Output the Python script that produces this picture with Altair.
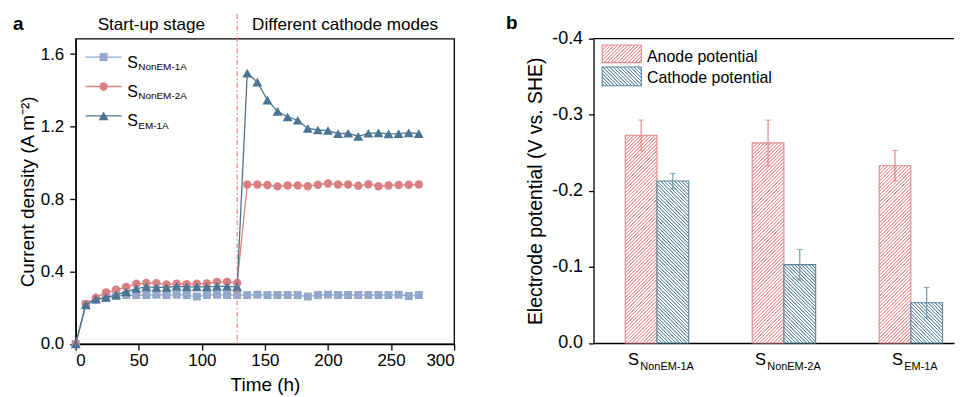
import altair as alt
import pandas as pd
import numpy as np

FONT = "Liberation Sans"

# ---------------- data: panel a ----------------
hours = list(range(0, 280, 8))  # 0 .. 272 h
nonem_1a = [0.0, 0.22, 0.245, 0.255, 0.265, 0.27, 0.27, 0.27, 0.272, 0.27,
            0.272, 0.27, 0.262, 0.27, 0.272, 0.27, 0.27, 0.27, 0.272, 0.27,
            0.27, 0.27, 0.27, 0.262, 0.27, 0.272, 0.27, 0.27, 0.27, 0.27,
            0.27, 0.27, 0.272, 0.265, 0.27]
nonem_2a = [0.0, 0.22, 0.256, 0.285, 0.299, 0.315, 0.332, 0.337, 0.336, 0.328,
            0.332, 0.33, 0.332, 0.334, 0.343, 0.343, 0.337, 0.88, 0.88, 0.877,
            0.870, 0.875, 0.875, 0.871, 0.879, 0.886, 0.88, 0.88, 0.873, 0.882,
            0.871, 0.875, 0.877, 0.879, 0.88]
em_1a = [0.0, 0.216, 0.247, 0.257, 0.271, 0.288, 0.306, 0.315, 0.312, 0.312,
         0.318, 0.315, 0.315, 0.315, 0.318, 0.318, 0.315, 1.495, 1.445, 1.346,
         1.284, 1.253, 1.235, 1.19, 1.181, 1.178, 1.161, 1.163, 1.146, 1.163,
         1.165, 1.16, 1.161, 1.165, 1.161]
series_names = ["NonEM-1A", "NonEM-2A", "EM-1A"]
switch_time = [128]

# ---------------- data: panel b ----------------
reactors = ["NonEM-1A", "NonEM-2A", "EM-1A"]
anode = [-0.273, -0.263, -0.233]
anode_err = [0.02, 0.03, 0.02]
cathode = [-0.213, -0.103, -0.053]
cathode_err = [0.01, 0.02, 0.02]

# ---------------- styles ----------------
C_LIGHT = "#93a8cb"
C_RED = "#db8082"
C_DARK = "#4b7592"
C_RED_BAR = "#e08a8c"
C_BLUE_BAR = "#5a849e"
C_VLINE = "#e07a7c"

WA, HA = 380, 306.6
WB, HB = 362, 305.6
XB_MAX = 2.84
px_per_unit = WB / XB_MAX
BAR_W = 0.25

base = pd.DataFrame({"k": [0]})


def hatch(color, w, h, direction, period=3.5):
    """Soft-edged diagonal stripes built from a linear gradient."""
    c = (1 / h + 1 / w) / (1 / h ** 2 + 1 / w ** 2)
    if direction == "/":
        x1, y1, x2, y2 = 0, 0, c / h, c / w
    else:
        x1, y1, x2, y2 = 0, 1, c / h, 1 - c / w
    n = (w + h) / period
    profile = [(0.0, "white"), (0.22, "white"), (0.42, color), (0.58, color), (0.78, "white")]
    stops = []
    k = 0
    while k / n < 1:
        for frac, col in profile:
            off = (k + frac) / n
            if off <= 1:
                stops.append({"offset": round(off, 5), "color": col})
        k += 1
    stops.append({"offset": 1, "color": "white"})
    return {"gradient": "linear", "stops": stops,
            "x1": x1, "y1": y1, "x2": x2, "y2": y2}


def txt(text, x, y, size, align="left", weight="normal", baseline="alphabetic"):
    return alt.Chart(base).mark_text(
        text=text, fontSize=size, font=FONT, align=align, baseline=baseline,
        fontWeight=weight, color="black"
    ).encode(x=alt.value(x), y=alt.value(y))


# ================= panel a =================
df_a = pd.DataFrame({
    "t": hours * 3,
    "j": nonem_1a + nonem_2a + em_1a,
    "s": [series_names[0]] * len(hours) + [series_names[1]] * len(hours) + [series_names[2]] * len(hours),
})

xa = alt.X("t:Q", scale=alt.Scale(domain=[0, 300], nice=False),
           axis=alt.Axis(values=[0, 50, 100, 150, 200, 250, 300], title="Time (h)",
                         tickSize=6, labelPadding=3, titlePadding=7, labelFontSize=17,
                         titleFontSize=19, format="d"))
ya = alt.Y("j:Q", scale=alt.Scale(domain=[0, 1.685], nice=False),
           axis=alt.Axis(values=[0, 0.4, 0.8, 1.2, 1.6], format=".1f",
                         title="Current density (A m⁻²)", tickSize=6, labelPadding=6,
                         titlePadding=3, labelFontSize=17, titleFontSize=19))

styles = {"NonEM-1A": (C_LIGHT, "square", 64),
          "NonEM-2A": (C_RED, "circle", 72),
          "EM-1A": (C_DARK, "triangle-up", 100)}

layers_a = []
for s in ["NonEM-1A", "NonEM-2A", "EM-1A"]:
    col, shp, sz = styles[s]
    src = alt.Chart(df_a).transform_filter(alt.datum.s == s)
    layers_a.append(src.mark_line(color=col, strokeWidth=1.3).encode(x=xa, y=ya))
    layers_a.append(src.mark_point(color=col, shape=shp, size=sz, filled=True, opacity=1).encode(x=xa, y=ya))

vline = alt.Chart(pd.DataFrame({"t": switch_time})).mark_rule(
    color=C_VLINE, strokeWidth=1.1, strokeDash=[5, 2.5, 1.5, 2.5]
).encode(x="t:Q", y=alt.value(-24.7), y2=alt.value(HA))
layers_a.append(vline)

# legend (panel a)
for i, s in enumerate(series_names):
    col, shp, sz = styles[s]
    yy = 18.5 + 29.5 * i
    layers_a.append(alt.Chart(base).mark_rule(color=col, strokeWidth=1.3).encode(
        x=alt.value(10), x2=alt.value(46), y=alt.value(yy)))
    layers_a.append(alt.Chart(base).mark_point(color=col, shape=shp, size=sz, filled=True, opacity=1).encode(
        x=alt.value(28), y=alt.value(yy)))
    layers_a.append(txt("S", 51.7, yy + 10.5, 16))
    layers_a.append(txt(s, 62.8, yy + 13, 10))

layers_a.append(txt("a", -63, -8.7, 19, weight="bold"))
layers_a.append(txt("Start-up stage", 76, -8.7, 17.2, align="center"))
layers_a.append(txt("Different cathode modes", 270.5, -8.7, 17.2, align="center"))

panel_a = alt.layer(*layers_a).properties(
    width=WA, height=HA,
    view=alt.ViewBackground(stroke="black", strokeWidth=1.3))

# ================= panel b =================
idx = list(range(len(reactors)))
df_b = pd.DataFrame({
    "r": reactors * 2,
    "kind": ["anode"] * 3 + ["cathode"] * 3,
    "v": anode + cathode,
    "err": anode_err + cathode_err,
    "i": idx * 2,
})
df_b["x1"] = df_b["i"] + 0.5 + np.where(df_b["kind"] == "anode", -BAR_W, 0.0)
df_b["x2"] = df_b["x1"] + BAR_W
df_b["xc"] = (df_b["x1"] + df_b["x2"]) / 2
df_b["lo"] = df_b["v"] - df_b["err"]
df_b["hi"] = df_b["v"] + df_b["err"]

xb = alt.X("x1:Q", scale=alt.Scale(domain=[0, XB_MAX], nice=False, zero=False),
           axis=alt.Axis(labels=False, ticks=False, title=None, grid=False))
yb = alt.Y("v:Q", scale=alt.Scale(domain=[-0.4, 0], reverse=True, nice=False, zero=False),
           axis=alt.Axis(values=[-0.4, -0.3, -0.2, -0.1, 0.0],
                         labelExpr="datum.value == 0 ? '0.0' : '-' + format(abs(datum.value), '.1f')",
                         title="Electrode potential (V vs. SHE)", tickSize=5, labelPadding=6,
                         titlePadding=6, labelFontSize=18, titleFontSize=19.5))

layers_b = []
bar_w_px = BAR_W * px_per_unit
for _, row in df_b.iterrows():
    h_px = abs(row["v"]) / 0.4 * HB
    if row["kind"] == "anode":
        fill = hatch(C_RED_BAR, bar_w_px, h_px, "/")
        col = C_RED_BAR
    else:
        fill = hatch(C_BLUE_BAR, bar_w_px, h_px, "\\")
        col = C_BLUE_BAR
    layers_b.append(
        alt.Chart(df_b).transform_filter(
            (alt.datum.r == row["r"]) & (alt.datum.kind == row["kind"])
        ).mark_rect(fill=fill, stroke=col, strokeWidth=1.1).encode(
            x=xb, x2="x2:Q", y=yb, y2=alt.datum(0))
    )

for kind, col in [("anode", "#e07f82"), ("cathode", "#6a8ea6")]:
    src = alt.Chart(df_b).transform_filter(alt.datum.kind == kind)
    layers_b.append(src.mark_rule(color=col, strokeWidth=1.1).encode(
        x=alt.X("xc:Q"), y=alt.Y("lo:Q"), y2="hi:Q"))
    layers_b.append(src.mark_tick(color=col, orient="horizontal", size=6, thickness=1.1).encode(
        x=alt.X("xc:Q"), y=alt.Y("lo:Q")))
    layers_b.append(src.mark_tick(color=col, orient="horizontal", size=6, thickness=1.1).encode(
        x=alt.X("xc:Q"), y=alt.Y("hi:Q")))

# top frame line
layers_b.append(alt.Chart(base).mark_rule(color="black", strokeWidth=1.3).encode(
    x=alt.value(0), x2=alt.value(WB), y=alt.value(0)))

# legend (panel b)
layers_b.append(alt.Chart(base).mark_rect(
    fill=hatch(C_RED_BAR, 39.3, 17.7, "/"), stroke=C_RED_BAR, strokeWidth=1.1
).encode(x=alt.value(8.7), x2=alt.value(48), y=alt.value(6.3), y2=alt.value(24)))
layers_b.append(alt.Chart(base).mark_rect(
    fill=hatch(C_BLUE_BAR, 39.3, 18.7, "\\"), stroke=C_BLUE_BAR, strokeWidth=1.1
).encode(x=alt.value(8.7), x2=alt.value(48), y=alt.value(28.5), y2=alt.value(47.2)))
layers_b.append(txt("Anode potential", 53.7, 23.2, 16))
layers_b.append(txt("Cathode potential", 53.7, 44.2, 16))

layers_b.append(txt("b", -88, -9.7, 19, weight="bold"))

# x category labels with subscripts
S_SIZE, SUB_SIZE = 16.5, 11
for i, r in enumerate(reactors):
    sub_w = {"NonEM-1A": 4.89, "NonEM-2A": 4.89, "EM-1A": 3.056}[r] * SUB_SIZE
    s_w = 0.667 * S_SIZE
    total = s_w + 1.3 + sub_w
    s_right = 4 - total / 2 + s_w
    lab = pd.DataFrame({"xm": [i + 0.5], "r": [r]})
    layers_b.append(alt.Chart(lab).mark_text(
        text="S", fontSize=S_SIZE, font=FONT, align="right", baseline="alphabetic",
        dx=s_right, color="black").encode(x="xm:Q", y=alt.value(HB + 21.7)))
    layers_b.append(alt.Chart(lab).mark_text(
        fontSize=SUB_SIZE, font=FONT, align="left", baseline="alphabetic",
        dx=s_right + 1.3, color="black").encode(x="xm:Q", y=alt.value(HB + 27), text="r:N"))

panel_b = alt.layer(*layers_b).properties(width=WB, height=HB)

chart = alt.hconcat(panel_a, panel_b, spacing=50).properties(
    padding={"left": 4, "top": 4, "right": 0, "bottom": 0}
).configure(font=FONT).configure_view(stroke=None).configure_axis(
    labelFont=FONT, titleFont=FONT, labelColor="black", titleColor="black",
    domainColor="black", tickColor="black", domainWidth=1.3, tickWidth=1.3,
    titleFontWeight="normal", grid=False
)

chart.save("out.html", embed_options={"renderer": "svg", "actions": False})
